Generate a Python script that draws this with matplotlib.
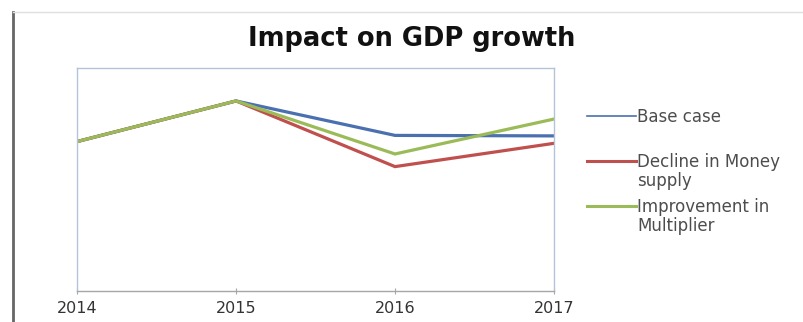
import matplotlib
matplotlib.use("Agg")
import matplotlib.pyplot as plt
from matplotlib.lines import Line2D

years = [2014, 2015, 2016, 2017]
base_case = [6.03, 7.67, 6.28, 6.26]
decline_money = [6.03, 7.67, 5.02, 5.96]
improve_mult = [6.03, 7.67, 5.53, 6.94]

series_names = ["Base case", "Decline in Money\nsupply", "Improvement in\nMultiplier"]
series_colors = ["#4a70b0", "#c0504d", "#9bbb59"]

plt.rcParams["font.family"] = ["DejaVu Sans"]

W, H = 804, 322
fig = plt.figure(figsize=(W / 100, H / 100), dpi=100)
ax = fig.add_axes([77 / W, 31 / H, 477 / W, 223 / H])

for vals, col in zip([base_case, decline_money, improve_mult], series_colors):
    ax.plot(years, vals, color=col, linewidth=2.3, solid_joinstyle="miter")

ax.set_xlim(years[0], years[-1])
ax.set_ylim(0, 9)
ax.set_xticks(years)
ax.set_xticklabels([str(y) for y in years], fontsize=11.5, color="#333333")
ax.set_yticks([])
ax.tick_params(axis="x", direction="inout", length=5, color="#a6a6a6", pad=5)

for side in ["top", "left", "right"]:
    ax.spines[side].set_color("#b4c4d8")
    ax.spines[side].set_linewidth(1.0)
ax.spines["bottom"].set_color("#a6a6a6")
ax.spines["bottom"].set_linewidth(1.0)

fig.text(412 / W, 1 - 39 / H, "Impact on GDP growth", ha="center", va="center",
         fontsize=18.5, fontweight="bold", color="#111111")

# legend, placed the way Excel stacks it
legend_y = [116, 161, 206]
for name, col, y in zip(series_names, series_colors, legend_y):
    fig.add_artist(Line2D([587 / W, 636 / W], [1 - y / H, 1 - y / H],
                          color=col, linewidth=2.2 if col != series_colors[0] else 1.2))
    fig.text(637 / W, 1 - (y - 8) / H, name, ha="left", va="top",
             fontsize=12, color="#4d4d4d", linespacing=1.1)

# chart area border
fig.add_artist(Line2D([13 / W, 13 / W], [0, 1 - 12 / H], color="#666666", linewidth=2))
fig.add_artist(Line2D([13 / W, 1], [1 - 12 / H, 1 - 12 / H], color="#e0e0e0", linewidth=1))

fig.savefig("out.png", dpi=100)
